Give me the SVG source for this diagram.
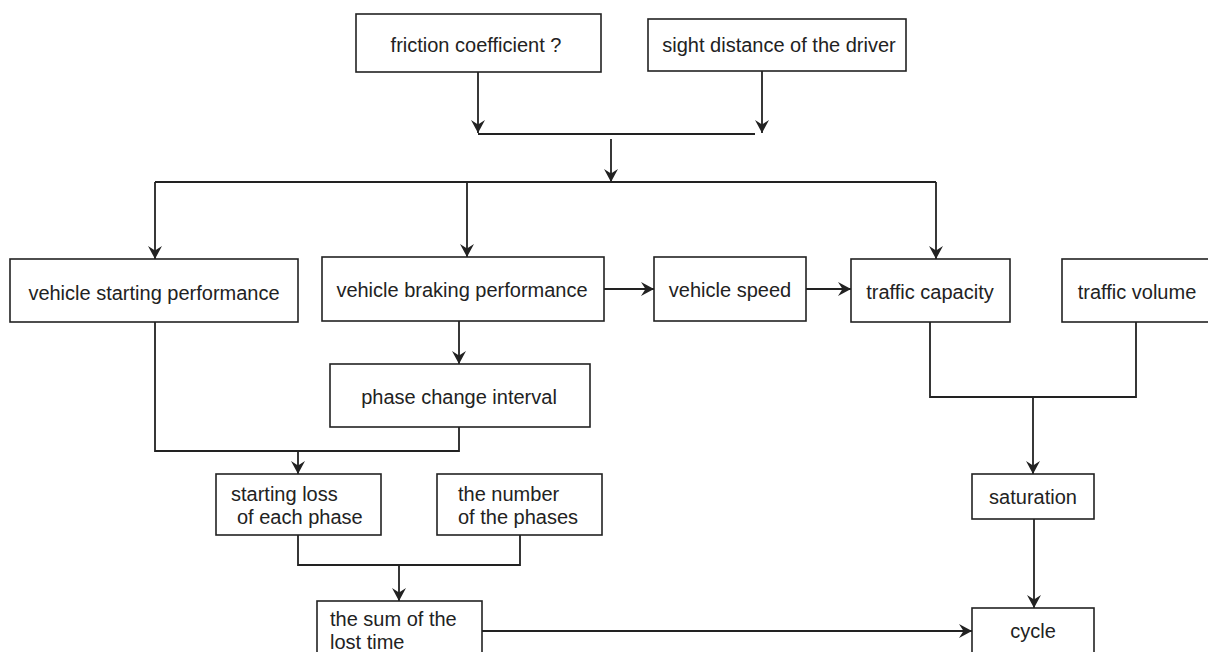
<svg xmlns="http://www.w3.org/2000/svg" width="1208" height="652" viewBox="0 0 1208 652">
<style>
rect{fill:#fff;stroke:#222;stroke-width:1.6}
text{font-family:"Liberation Sans",Arial,sans-serif;font-size:20px;fill:#222}
.c{text-anchor:middle}
#connectors path{fill:none;stroke:#222;stroke-width:1.8}
</style>
<defs>
<marker id="ah" viewBox="0 0 13 14" refX="13" refY="7" markerWidth="13" markerHeight="14" markerUnits="userSpaceOnUse" orient="auto">
<path d="M0,0 L13,7 L0,14 L4.5,7 Z" fill="#222"/>
</marker>
</defs>
<rect width="1208" height="652" style="fill:#fff;stroke:none"/>
<g id="connectors">
<path d="M478,72 V133" marker-end="url(#ah)"/>
<path d="M762,71 V133" marker-end="url(#ah)"/>
<path d="M478,134 H755"/>
<path d="M611,139 V182" marker-end="url(#ah)"/>
<path d="M155,182 H936"/>
<path d="M155,182 V259" marker-end="url(#ah)"/>
<path d="M467,182 V257" marker-end="url(#ah)"/>
<path d="M936,182 V259" marker-end="url(#ah)"/>
<path d="M604,289 H654" marker-end="url(#ah)"/>
<path d="M804,289 H851" marker-end="url(#ah)"/>
<path d="M459,321 V364" marker-end="url(#ah)"/>
<path d="M155,322 V451 H459 V427"/>
<path d="M298,451 V474" marker-end="url(#ah)"/>
<path d="M930,322 V397 H1136 V322"/>
<path d="M1033,397 V474" marker-end="url(#ah)"/>
<path d="M1034,519 V608" marker-end="url(#ah)"/>
<path d="M298,535 V565 H520 V535"/>
<path d="M399,565 V601" marker-end="url(#ah)"/>
<path d="M482,631 H972" marker-end="url(#ah)"/>
</g>
<g id="friction"><rect x="356" y="14" width="245" height="58"/><text class="c" x="476" y="52">friction coefficient ?</text></g>
<g id="sight"><rect x="648" y="19" width="258" height="52"/><text class="c" x="779" y="52">sight distance of the driver</text></g>
<g id="starting"><rect x="10" y="259" width="288" height="63"/><text class="c" x="154" y="300">vehicle starting performance</text></g>
<g id="braking"><rect x="322" y="257" width="282" height="64"/><text class="c" x="462" y="297">vehicle braking performance</text></g>
<g id="speed"><rect x="654" y="257" width="152" height="64"/><text class="c" x="730" y="297">vehicle speed</text></g>
<g id="capacity"><rect x="851" y="259" width="159" height="63"/><text class="c" x="930" y="299">traffic capacity</text></g>
<g id="volume"><rect x="1062" y="259" width="150" height="63"/><text class="c" x="1137" y="299">traffic volume</text></g>
<g id="phase"><rect x="330" y="364" width="260" height="63"/><text class="c" x="459" y="404">phase change interval</text></g>
<g id="startloss"><rect x="216" y="474" width="165" height="61"/><text x="231" y="501">starting loss</text><text x="237" y="524">of each phase</text></g>
<g id="number"><rect x="437" y="474" width="165" height="61"/><text x="458" y="501">the number</text><text x="458" y="524">of the phases</text></g>
<g id="saturation"><rect x="972" y="474" width="122" height="45"/><text class="c" x="1033" y="504">saturation</text></g>
<g id="sum"><rect x="317" y="601" width="165" height="56"/><text x="330" y="626">the sum of the</text><text x="330" y="649">lost time</text></g>
<g id="cycle"><rect x="972" y="608" width="122" height="48"/><text class="c" x="1033" y="638">cycle</text></g>
</svg>
